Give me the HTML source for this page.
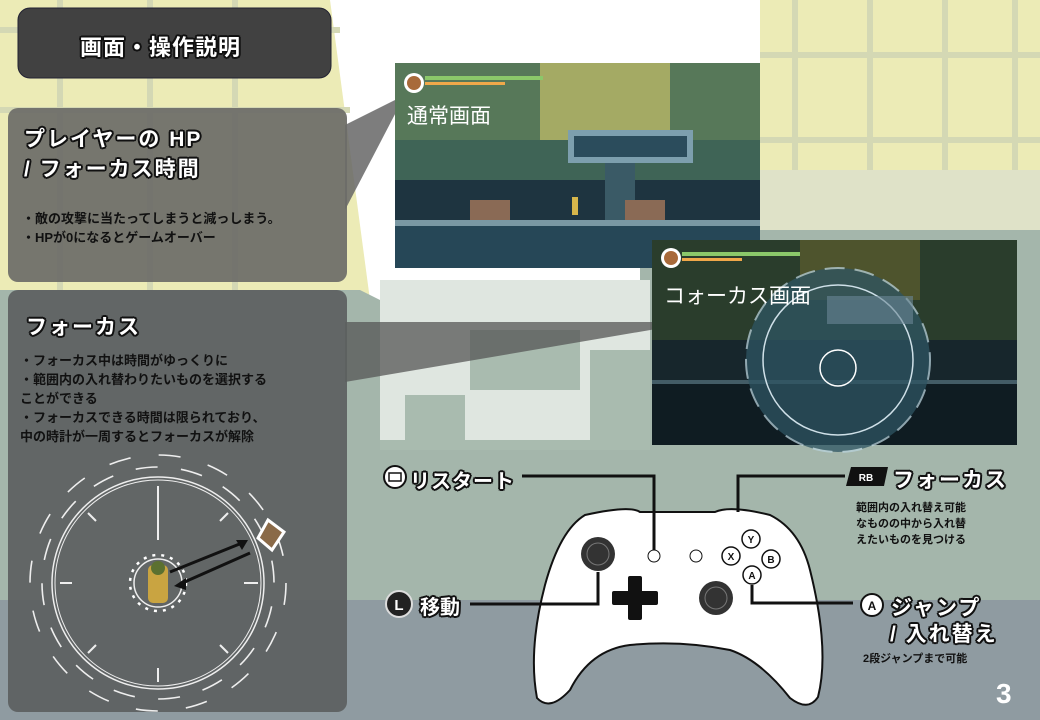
<!DOCTYPE html>
<html><head><meta charset="utf-8"><style>
*{margin:0;padding:0;box-sizing:border-box}
body{width:1040px;height:720px;overflow:hidden;position:relative;background:#fff;font-family:"Liberation Sans","Noto Sans CJK JP",sans-serif}
.a{position:absolute;white-space:nowrap}
.ol{color:#fff;font-weight:bold;text-shadow:-2px 0 #111,2px 0 #111,0 -2px #111,0 2px #111,-1.5px -1.5px #111,1.5px 1.5px #111,-1.5px 1.5px #111,1.5px -1.5px #111}
.bk{color:#111;font-weight:bold;font-size:13px;line-height:19px}
</style></head><body>
<svg class="a" style="left:0;top:0" width="1040" height="720">
<polygon points="0,0 330,0 370,300 0,300" fill="#ecebb6"/>
<rect x="760" y="0" width="280" height="170" fill="#ecebb6"/>
<g stroke="#d4d8b4" stroke-width="6">
<line x1="60" y1="0" x2="60" y2="300"/><line x1="150" y1="0" x2="150" y2="300"/><line x1="235" y1="0" x2="235" y2="300"/><line x1="0" y1="30" x2="340" y2="30"/><line x1="0" y1="110" x2="350" y2="110"/>
<line x1="795" y1="0" x2="795" y2="170"/><line x1="870" y1="0" x2="870" y2="170"/><line x1="945" y1="0" x2="945" y2="170"/><line x1="1015" y1="0" x2="1015" y2="170"/><line x1="760" y1="55" x2="1040" y2="55"/><line x1="760" y1="140" x2="1040" y2="140"/>
</g>
<rect x="760" y="170" width="280" height="60" fill="#dfe2c8"/>
<polygon points="0,290 360,290 380,300 640,300 640,230 1040,230 1040,720 0,720" fill="#a4b6ab"/>
<rect x="0" y="600" width="1040" height="120" fill="#8f9ba1"/>
<rect x="380" y="280" width="270" height="170" fill="#dfe6e0"/>
<g fill="#a9bbaf"><rect x="470" y="330" width="110" height="60"/><rect x="405" y="395" width="60" height="50"/><rect x="590" y="350" width="60" height="100"/><rect x="380" y="440" width="270" height="10"/></g>
<polygon points="345,125 405,95 345,210" fill="#666" opacity="0.85"/>
<polygon points="345,322 662,322 662,328 345,382" fill="#555" opacity="0.75"/>
<rect x="18" y="8" width="313" height="70" rx="12" fill="#414141" stroke="#223" stroke-width="1"/>
<rect x="8" y="108" width="339" height="174" rx="10" fill="#6b6b68" opacity="0.92"/>
<rect x="8" y="290" width="339" height="422" rx="10" fill="#5c5f5f" opacity="0.92"/>
<rect x="395" y="63" width="365" height="205" fill="#1f3a45"/>
<rect x="395" y="63" width="365" height="130" fill="#577859"/>
<rect x="540" y="63" width="130" height="80" fill="#b8b666" opacity="0.8"/>
<rect x="395" y="140" width="365" height="40" fill="#3f6456"/>
<rect x="395" y="180" width="365" height="40" fill="#1e3440"/>
<rect x="568" y="130" width="125" height="33" fill="#7d9fae"/><rect x="574" y="136" width="113" height="21" fill="#2b4c5c"/>
<rect x="605" y="163" width="30" height="57" fill="#3a5a66"/>
<rect x="395" y="220" width="365" height="6" fill="#7a98a3"/>
<rect x="395" y="226" width="365" height="42" fill="#264757"/>
<rect x="470" y="200" width="40" height="20" fill="#8a6a55"/><rect x="625" y="200" width="40" height="20" fill="#8a6a55"/>
<rect x="572" y="197" width="6" height="18" fill="#d6b64b"/>
<circle cx="414" cy="83" r="10" fill="#fff"/><circle cx="414" cy="83" r="7" fill="#a86a3a"/>
<rect x="425" y="76" width="118" height="4" fill="#8bc86a"/><rect x="425" y="82" width="80" height="3" fill="#f0a84a"/>
<rect x="652" y="240" width="365" height="205" fill="#0f1c22"/>
<rect x="652" y="240" width="365" height="140" fill="#2a3d2c"/>
<rect x="800" y="240" width="120" height="60" fill="#5e5e2e" opacity="0.7"/>
<rect x="652" y="340" width="365" height="40" fill="#17262c"/>
<rect x="652" y="380" width="365" height="4" fill="#435c66"/>
<circle cx="838" cy="360" r="92" fill="#2e5563" opacity="0.75" stroke="#b9d2dc" stroke-width="2" stroke-dasharray="20 10"/>
<circle cx="838" cy="360" r="75" fill="none" stroke="#cfe0e8" stroke-width="1.5"/>
<circle cx="838" cy="368" r="18" fill="none" stroke="#fff" stroke-width="1.5"/>
<rect x="827" y="296" width="86" height="28" fill="#6a8796" opacity="0.6"/>
<circle cx="671" cy="258" r="10" fill="#fff"/><circle cx="671" cy="258" r="7" fill="#a86a3a"/>
<rect x="682" y="252" width="118" height="4" fill="#8bc86a"/><rect x="682" y="258" width="60" height="3" fill="#f0a84a"/>
<!-- clock -->
<circle cx="158" cy="583" r="128" fill="none" stroke="#eee" stroke-width="1.6" stroke-dasharray="22 28.3"/>
<circle cx="158" cy="583" r="116" fill="none" stroke="#eee" stroke-width="1.6" stroke-dasharray="22 23.5" stroke-dashoffset="22"/>
<circle cx="158" cy="583" r="106" fill="none" stroke="#eee" stroke-width="1.5"/>
<circle cx="158" cy="583" r="103" fill="none" stroke="#eee" stroke-width="1"/>
<g stroke="#eee" stroke-width="2">
<line x1="158" y1="486" x2="158" y2="540"/><line x1="158" y1="668" x2="158" y2="682"/><line x1="60" y1="583" x2="72" y2="583"/><line x1="244" y1="583" x2="258" y2="583"/>
<line x1="88" y1="513" x2="96" y2="521"/><line x1="228" y1="513" x2="220" y2="521"/><line x1="88" y1="653" x2="96" y2="645"/><line x1="228" y1="653" x2="220" y2="645"/>
</g>
<circle cx="158" cy="583" r="28" fill="none" stroke="#fff" stroke-width="2.5" stroke-dasharray="3 6"/>
<circle cx="158" cy="583" r="24" fill="none" stroke="#eee" stroke-width="1.5"/>
<rect x="148" y="565" width="20" height="38" rx="5" fill="#c9a441"/><circle cx="158" cy="568" r="7" fill="#5b7030"/>
<polygon points="268,520 284,532 272,550 258,538" fill="#8a6a48" stroke="#fff" stroke-width="3"/>
<g stroke="#111" stroke-width="3"><line x1="170" y1="572" x2="242" y2="543"/><line x1="250" y1="553" x2="180" y2="584"/></g>
<polygon points="248,540 236,540 242,550" fill="#111"/><polygon points="174,586 186,578 186,590" fill="#111"/>
<!-- controller -->
<path d="M585,515 Q630,505 640,512 L715,512 Q730,505 770,515 Q800,530 810,570 Q830,650 818,697 Q808,712 790,698 Q760,660 730,650 Q680,640 630,645 Q590,650 570,690 Q550,712 537,698 Q528,650 545,585 Q560,530 585,515 Z" fill="#fff" stroke="#111" stroke-width="2"/>
<g stroke="#111" stroke-width="3" fill="none">
<polyline points="522,476 654,476 654,550"/>
<polyline points="470,604 598,604 598,572"/>
<polyline points="845,476 738,476 738,512"/>
<polyline points="853,603 752,603 752,585"/>
</g>
<circle cx="598" cy="554" r="17" fill="#333"/><circle cx="598" cy="554" r="11" fill="none" stroke="#777"/>
<circle cx="716" cy="598" r="17" fill="#333"/><circle cx="716" cy="598" r="11" fill="none" stroke="#777"/>
<rect x="612" y="591" width="46" height="14" rx="2" fill="#111"/><rect x="628" y="576" width="14" height="44" rx="2" fill="#111"/>
<circle cx="654" cy="556" r="6" fill="#fff" stroke="#111"/><circle cx="696" cy="556" r="6" fill="#fff" stroke="#111"/>
<g fill="#fff" stroke="#111" stroke-width="1.5"><circle cx="751" cy="539" r="9"/><circle cx="731" cy="556" r="9"/><circle cx="771" cy="559" r="9"/><circle cx="752" cy="575" r="9"/></g>
<g font-size="10" font-weight="bold" text-anchor="middle" fill="#111"><text x="751" y="543">Y</text><text x="731" y="560">X</text><text x="771" y="563">B</text><text x="752" y="579">A</text></g>
<circle cx="395" cy="477" r="11" fill="#fff" stroke="#111" stroke-width="2"/><rect x="389" y="473" width="12" height="8" fill="none" stroke="#111" stroke-width="1.5"/>
<circle cx="399" cy="604" r="13" fill="#222" stroke="#ddd" stroke-width="2"/><text x="399" y="610" font-size="15" font-weight="bold" fill="#fff" text-anchor="middle">L</text>
<polygon points="851,467 888,467 884,486 846,486" fill="#111"/><text x="866" y="481" font-size="10" font-weight="bold" fill="#fff" text-anchor="middle">RB</text>
<circle cx="872" cy="605" r="11" fill="#fff" stroke="#111" stroke-width="2"/><text x="872" y="610" font-size="12" font-weight="bold" fill="#111" text-anchor="middle">A</text>
</svg>
<div class="a ol" style="left:80px;top:30px;font-size:22px;letter-spacing:1px">画面・操作説明</div>
<div class="a ol" style="left:24px;top:125px;font-size:21px;line-height:30px;letter-spacing:2px">プレイヤーの HP<br>/ フォーカス時間</div>
<div class="a bk" style="left:22px;top:209px;line-height:19px">・敵の攻撃に当たってしまうと減っしまう。<br>・HPが0になるとゲームオーバー</div>
<div class="a ol" style="left:26px;top:311px;font-size:21px;letter-spacing:2px">フォーカス</div>
<div class="a bk" style="left:20px;top:351px">・フォーカス中は時間がゆっくりに<br>・範囲内の入れ替わりたいものを選択する<br>ことができる<br>・フォーカスできる時間は限られており、<br>中の時計が一周するとフォーカスが解除</div>
<div class="a" style="left:407px;top:100px;font-size:21px;color:#fff">通常画面</div>
<div class="a" style="left:664px;top:280px;font-size:21px;color:#fff">コォーカス画面</div>
<div class="a ol" style="left:410px;top:465px;font-size:20px;letter-spacing:1px">リスタート</div>
<div class="a ol" style="left:420px;top:591px;font-size:20px">移動</div>
<div class="a ol" style="left:893px;top:464px;font-size:21px;letter-spacing:2px">フォーカス</div>
<div class="a bk" style="left:856px;top:500px;font-size:11px;line-height:16px">範囲内の入れ替え可能<br>なものの中から入れ替<br>えたいものを見つける</div>
<div class="a ol" style="left:891px;top:592px;font-size:21px;letter-spacing:2px">ジャンプ</div>
<div class="a ol" style="left:890px;top:618px;font-size:21px;letter-spacing:2px">/ 入れ替え</div>
<div class="a bk" style="left:863px;top:650px;font-size:11px">2段ジャンプまで可能</div>
<div class="a" style="left:996px;top:678px;font-size:28px;font-weight:bold;color:#fff">3</div>
</body></html>
